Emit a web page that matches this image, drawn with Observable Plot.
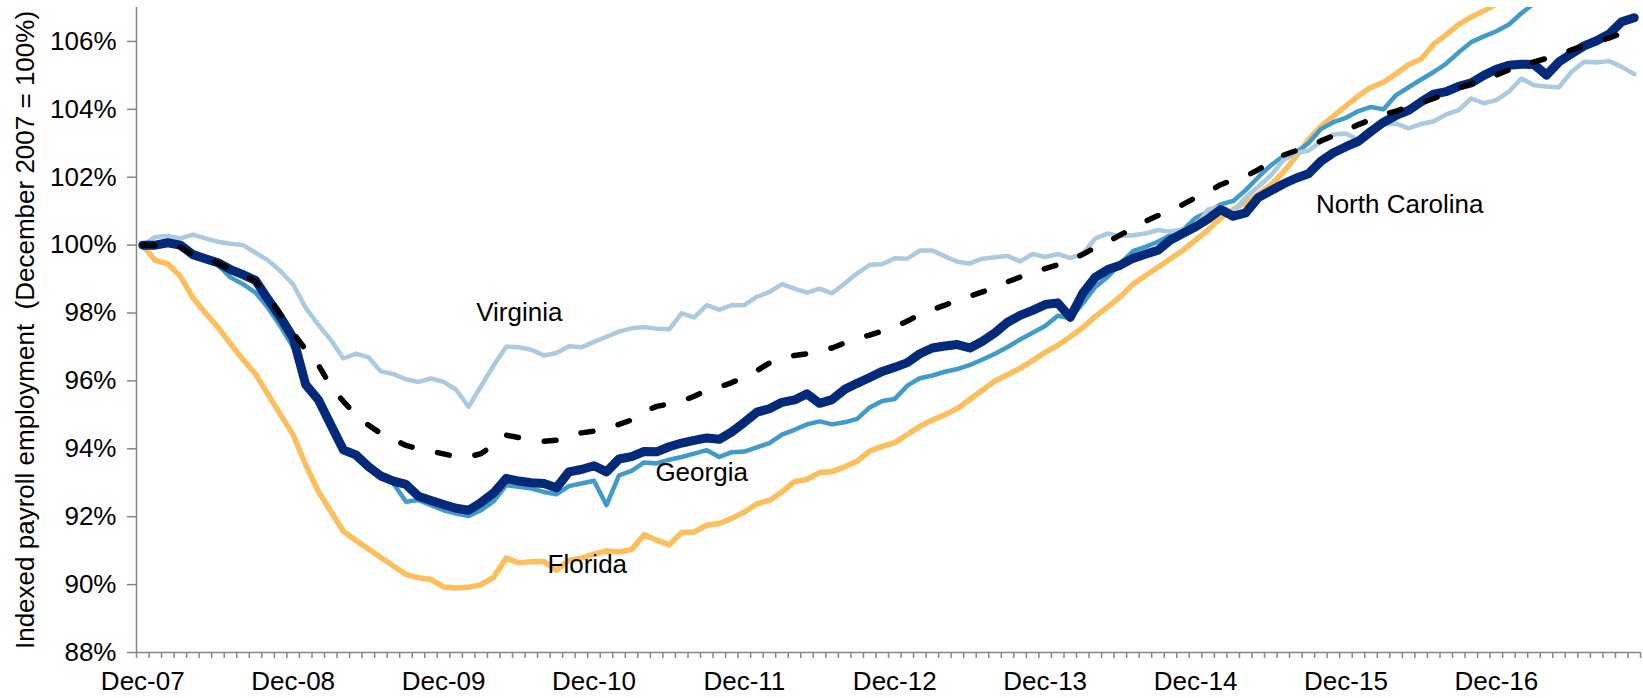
<!DOCTYPE html>
<html>
<head>
<meta charset="utf-8">
<script src="https://cdn.jsdelivr.net/npm/d3@7"></script>
<script src="https://cdn.jsdelivr.net/npm/@observablehq/plot@0.6"></script>
<style>
  html, body { margin: 0; padding: 0; background: #ffffff; }
  svg text { white-space: pre; }
</style>
</head>
<body>
<div id="chart"></div>
<script>
// Monthly categories: Dec-07 (index 0) ... Nov-17 (index 119)
const monthCount = 120;
const xTickIndex = [0, 12, 24, 36, 48, 60, 72, 84, 96, 108];
const xTickLabels = ["Dec-07", "Dec-08", "Dec-09", "Dec-10", "Dec-11", "Dec-12", "Dec-13", "Dec-14", "Dec-15", "Dec-16"];
const yTicks = [88, 90, 92, 94, 96, 98, 100, 102, 104, 106];
const yTitle = "Indexed payroll employment  (December 2007 = 100%)";

const virginia = [
  100.0, 100.24, 100.27, 100.2, 100.31, 100.2, 100.1, 100.04, 100.0, 99.77, 99.55, 99.23,
  98.84, 98.15, 97.66, 97.21, 96.66, 96.8, 96.7, 96.28, 96.2, 96.05, 95.97, 96.07,
  95.97, 95.74, 95.24, 95.85, 96.46, 97.01, 96.99, 96.92, 96.75, 96.82, 97.02, 96.99,
  97.15, 97.3, 97.45, 97.55, 97.59, 97.54, 97.52, 97.99, 97.87, 98.23, 98.1, 98.23,
  98.23, 98.48, 98.62, 98.85, 98.72, 98.6, 98.72, 98.58, 98.87, 99.17, 99.42, 99.44,
  99.61, 99.6, 99.84, 99.84, 99.67, 99.51, 99.46, 99.6, 99.64, 99.68, 99.52, 99.74,
  99.65, 99.74, 99.62, 99.74, 100.2, 100.34, 100.27, 100.29, 100.34, 100.44, 100.4, 100.46,
  100.55, 101.05, 101.13, 100.97, 101.41, 101.72, 102.05, 102.5, 102.72, 102.78, 103.05, 103.26,
  103.29, 103.1, 103.44, 103.55, 103.58, 103.44, 103.57, 103.65, 103.85, 103.98, 104.32, 104.18,
  104.27, 104.52, 104.91, 104.71, 104.67, 104.65, 105.11, 105.4, 105.38, 105.42, 105.25, 105.04
];

const georgia = [
  100.0, 100.0, 100.07, 100.0, 99.72, 99.6, 99.42, 99.05, 98.85, 98.6, 98.15, 97.6,
  97.0, 95.95, 95.45, 94.7, 93.95, 93.78, 93.4, 93.22, 92.98, 92.44, 92.49, 92.34,
  92.19, 92.09, 92.02, 92.19, 92.46, 92.93, 92.88, 92.83, 92.73, 92.66, 92.9, 92.98,
  93.06, 92.34, 93.22, 93.35, 93.6, 93.57, 93.68, 93.76, 93.86, 93.96, 93.76, 93.9,
  93.92, 94.04, 94.17, 94.42, 94.56, 94.72, 94.81, 94.72, 94.78, 94.88, 95.22, 95.41,
  95.47, 95.86, 96.08, 96.16, 96.27, 96.35, 96.47, 96.63, 96.8, 97.0, 97.22, 97.42,
  97.62, 97.92, 97.85, 98.28, 98.77, 99.07, 99.46, 99.82, 99.95, 100.1, 100.3, 100.45,
  100.8, 100.98, 101.2, 101.3, 101.62, 102.0, 102.35, 102.62, 102.73, 103.0, 103.42, 103.62,
  103.75, 103.95, 104.07, 104.0, 104.42, 104.65, 104.88, 105.1, 105.35, 105.68, 105.98, 106.15,
  106.3, 106.5, 106.83, 107.12, 107.4
];

const northCarolina = [
  100.0, 100.0, 100.07, 100.0, 99.72, 99.6, 99.48, 99.28, 99.13, 98.96, 98.4, 97.87,
  97.27, 95.89, 95.45, 94.71, 93.97, 93.82, 93.48, 93.2, 93.05, 92.95, 92.6, 92.48,
  92.36, 92.25, 92.19, 92.42, 92.7, 93.13, 93.05, 93.0, 92.98, 92.85, 93.32, 93.39,
  93.5, 93.32, 93.7, 93.77, 93.92, 93.91, 94.06, 94.17, 94.25, 94.32, 94.28, 94.5,
  94.78, 95.08, 95.18, 95.37, 95.44, 95.62, 95.34, 95.45, 95.75, 95.93, 96.1, 96.28,
  96.4, 96.54, 96.8, 96.97, 97.03, 97.07, 96.97, 97.17, 97.42, 97.73, 97.93, 98.08,
  98.25, 98.3, 97.87, 98.58, 99.05, 99.28, 99.41, 99.61, 99.73, 99.85, 100.15, 100.35,
  100.54, 100.77, 101.05, 100.85, 100.95, 101.4, 101.6, 101.8, 101.97, 102.1, 102.47, 102.72,
  102.9, 103.06, 103.35, 103.62, 103.82, 103.97, 104.22, 104.45, 104.52, 104.68, 104.78, 105.0,
  105.18, 105.3, 105.33, 105.32, 105.01, 105.4, 105.64, 105.87, 106.02, 106.22, 106.58, 106.7
];

const florida = [
  100.0, 99.55, 99.45, 99.08, 98.45, 98.0, 97.58, 97.09, 96.63, 96.2, 95.6, 95.0,
  94.41, 93.53, 92.75, 92.16, 91.57, 91.3, 91.05, 90.8, 90.55, 90.3, 90.2, 90.15,
  89.93, 89.9, 89.92, 90.0, 90.22, 90.78, 90.64, 90.67, 90.68, 90.42, 90.72, 90.78,
  90.9, 90.99, 90.96, 91.03, 91.47, 91.31, 91.17, 91.54, 91.55, 91.75, 91.8, 91.95,
  92.14, 92.38, 92.48, 92.73, 93.03, 93.1, 93.3, 93.33, 93.47, 93.64, 93.93, 94.07,
  94.18, 94.42, 94.66, 94.85, 95.0, 95.19, 95.46, 95.73, 96.0, 96.18, 96.37, 96.6,
  96.84, 97.05, 97.3, 97.57, 97.9, 98.18, 98.48, 98.85, 99.1, 99.35, 99.6, 99.85,
  100.15, 100.45, 100.8, 101.05, 101.25, 101.5, 101.77, 102.15, 102.6, 103.1, 103.5, 103.8,
  104.1, 104.4, 104.65, 104.8, 105.05, 105.32, 105.48, 105.92, 106.2, 106.5, 106.72, 106.9,
  107.1, 107.35
];

// Unlabelled dashed benchmark series
const benchmark = [
  100.0, 100.0, 100.04, 99.94, 99.72, 99.62, 99.48, 99.28, 99.13, 98.94, 98.5, 97.95,
  97.41, 96.92, 96.48, 95.84, 95.4, 95.0, 94.7, 94.45, 94.28, 94.1, 94.0, 93.93,
  93.85, 93.77, 93.76, 93.86, 94.12, 94.4, 94.33, 94.27, 94.22, 94.25, 94.37, 94.47,
  94.52, 94.6, 94.72, 94.85, 95.1, 95.25, 95.32, 95.4, 95.55, 95.72, 95.82, 95.95,
  96.12, 96.3, 96.53, 96.65, 96.75, 96.8, 96.88, 96.97, 97.12, 97.25, 97.35, 97.47,
  97.6, 97.76, 97.96, 98.1, 98.23, 98.38, 98.5, 98.62, 98.78, 98.92, 99.06, 99.2,
  99.31, 99.42, 99.55, 99.73, 99.93, 100.1, 100.3, 100.5, 100.7, 100.87, 101.0, 101.2,
  101.4, 101.57, 101.78, 101.92, 102.03, 102.22, 102.45, 102.65, 102.78, 102.9, 103.07, 103.22,
  103.38, 103.55, 103.7, 103.85, 103.95, 104.07, 104.19, 104.32, 104.47, 104.63, 104.76, 104.88,
  105.01, 105.16, 105.3, 105.4, 105.5, 105.63, 105.75, 105.88, 106.0, 106.1, 106.24, 106.38
];

// Direct labels (month index, value) for each state
const seriesLabels = [
  {name: "Virginia", month: 26.6, value: 98.0},
  {name: "Georgia", month: 40.9, value: 93.3},
  {name: "Florida", month: 32.3, value: 90.6},
  {name: "North Carolina", month: 93.6, value: 101.2}
];

const rows = (values) => values.map((v, i) => ({month: i, value: v}));

const axisGray = "#868686";
const lineBase = {x: "month", y: "value", clip: true, strokeLinejoin: "round", strokeLinecap: "round"};

const chart = Plot.plot({
  width: 1643,
  height: 698,
  marginLeft: 136,
  marginRight: 3,
  marginTop: 7,
  marginBottom: 46,
  style: {
    fontFamily: "'Liberation Sans', Arial, Helvetica, sans-serif",
    fontSize: "26px",
    color: "#000",
    background: "#ffffff",
    overflow: "visible"
  },
  x: {domain: [-0.5, monthCount - 0.5]},
  y: {domain: [88, 107]},
  marks: [
    // y axis
    Plot.axisY({ticks: yTicks, tickFormat: d => d + "%", tickSize: 9, tickPadding: 11,
                stroke: axisGray, strokeWidth: 1.5, fill: "#000", label: null}),
    Plot.ruleX([-0.5], {stroke: axisGray, strokeWidth: 1.5}),
    // x axis: monthly minor ticks at category boundaries
    Plot.axisX({ticks: d3.range(-0.5, monthCount, 1), tickSize: 6, tickFormat: () => "",
                stroke: axisGray, strokeWidth: 1.5, label: null}),
    Plot.axisX({ticks: xTickIndex, tickSize: 0, tickPadding: 19,
                tickFormat: d => xTickLabels[xTickIndex.indexOf(d)], fill: "#000", label: null}),
    Plot.ruleY([88], {stroke: axisGray, strokeWidth: 1.5}),
    // series
    Plot.line(rows(florida), {...lineBase, stroke: "#fdbf5b", strokeWidth: 5.5}),
    Plot.line(rows(georgia), {...lineBase, stroke: "#409bca", strokeWidth: 4.5}),
    Plot.line(rows(virginia), {...lineBase, stroke: "#abc9df", strokeWidth: 4.5}),
    Plot.line(rows(northCarolina), {...lineBase, stroke: "#02297a", strokeWidth: 9}),
    Plot.line(rows(benchmark), {...lineBase, stroke: "#000000", strokeWidth: 5.5, strokeDasharray: "12,26"}),
    // labels
    Plot.text(seriesLabels, {x: "month", y: "value", text: "name", textAnchor: "start", fill: "#000", fontSize: 26}),
    Plot.text([yTitle], {frameAnchor: "left", rotate: -90, dx: -111, textAnchor: "middle", fill: "#000", fontSize: 26})
  ]
});

document.getElementById("chart").appendChild(chart);
</script>
</body>
</html>
